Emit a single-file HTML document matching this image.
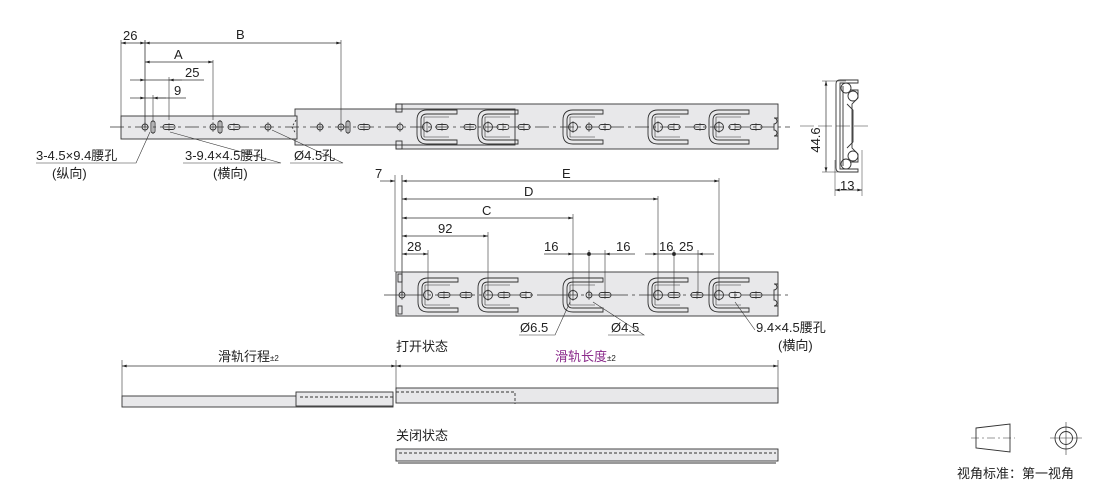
<!DOCTYPE html>
<html><head><meta charset="utf-8"><style>
html,body{margin:0;padding:0;background:#fff;width:1110px;height:485px;overflow:hidden}
svg text{font-family:"Liberation Sans","Noto Sans CJK SC",sans-serif;font-size:13px;fill:#222}
</style></head><body>
<svg width="1110" height="485" viewBox="0 0 1110 485" xmlns="http://www.w3.org/2000/svg">
<defs>
<marker id="a" viewBox="0 0 10 6" refX="10" refY="3" markerWidth="8" markerHeight="4" orient="auto-start-reverse"><path d="M0,0L10,3L0,6z" fill="#222"/></marker>
<g id="vs"><rect x="-2" y="-6" width="4" height="12" rx="2" fill="none" stroke="#333" stroke-width="0.9"/><line x1="0" y1="-7" x2="0" y2="7" stroke="#333" stroke-width="0.6"/></g>
<g id="hs"><rect x="-6" y="-2.5" width="12" height="5" rx="2.5" fill="none" stroke="#333" stroke-width="0.9"/><line x1="0" y1="-4" x2="0" y2="4" stroke="#333" stroke-width="0.6"/></g>
<g id="ci"><circle r="3" fill="none" stroke="#333" stroke-width="0.9"/><line x1="0" y1="-5" x2="0" y2="5" stroke="#333" stroke-width="0.6"/></g>
<g id="u"><path d="M30,-17 H0 Q-10,-17 -10,-7 V7 Q-10,17 0,17 H30 V13 H0 Q-6,13 -6,7 V-7 Q-6,-13 0,-13 H30 Z" fill="none" stroke="#333" stroke-width="0.9"/><path d="M-3,-10 V10 M-3,-10 H22 M-3,10 H22" fill="none" stroke="#333" stroke-width="0.6"/><circle r="4.5" fill="none" stroke="#333" stroke-width="0.9"/><line x1="0" y1="-6" x2="0" y2="6" stroke="#333" stroke-width="0.6"/></g>
</defs>
<g stroke="#333" stroke-width="0.9" fill="none">
<!-- TOP VIEW -->
<rect x="396" y="104" width="382" height="45" fill="#e8e8ea"/>
<rect x="295" y="109" width="220" height="36" fill="#e8e8ea"/>
<rect x="121" y="116" width="176" height="23" fill="#e8e8ea"/>
<line x1="110" y1="127" x2="790" y2="127" stroke-dasharray="14,4,3,4" stroke-width="0.7"/>
<path d="M296,120 l-4,7 l4,7" stroke-dasharray="2,2"/>
<rect x="396" y="104" width="6" height="8"/><rect x="396" y="141" width="6" height="8"/>
<path d="M778,118 h-4 a3,3 0 0 1 0,6 v6 a3,3 0 0 1 0,6 h4"/>
<!-- dims top -->
<line x1="121" y1="40" x2="121" y2="116" stroke-width="0.6"/>
<line x1="145" y1="40" x2="145" y2="127" stroke-width="0.8"/>
<line x1="153" y1="95" x2="153" y2="120" stroke-width="0.6"/>
<line x1="169" y1="77" x2="169" y2="120" stroke-width="0.6"/>
<line x1="213" y1="60" x2="213" y2="120" stroke-width="0.6"/>
<line x1="341" y1="40" x2="341" y2="122" stroke-width="0.6"/>
<line x1="121" y1="43" x2="145" y2="43" marker-start="url(#a)" marker-end="url(#a)" stroke-width="0.7"/>
<line x1="145" y1="43" x2="341" y2="43" marker-start="url(#a)" marker-end="url(#a)" stroke-width="0.7"/>
<line x1="145" y1="62" x2="213" y2="62" marker-start="url(#a)" marker-end="url(#a)" stroke-width="0.7"/>
<line x1="130" y1="80" x2="145" y2="80" marker-end="url(#a)" stroke-width="0.7"/><line x1="145" y1="80" x2="204" y2="80" stroke-width="0.7"/><line x1="182" y1="80" x2="169" y2="80" marker-end="url(#a)" stroke-width="0.7"/>
<line x1="130" y1="98" x2="145" y2="98" marker-end="url(#a)" stroke-width="0.7"/><line x1="145" y1="98" x2="186" y2="98" stroke-width="0.7"/><line x1="166" y1="98" x2="153" y2="98" marker-end="url(#a)" stroke-width="0.7"/>
<!-- leaders -->
<path d="M36,163 H136 L150,132" stroke-width="0.6"/>
<path d="M183,163 H281 L170,132" stroke-width="0.6"/>
<path d="M290,163 H343 L272,130" stroke-width="0.6"/>
<!-- second view -->
<rect x="396" y="272" width="382" height="44" fill="#e8e8ea"/>
<line x1="384" y1="295" x2="790" y2="295" stroke-dasharray="40,4,3,4" stroke-width="0.7"/>
<rect x="398" y="274" width="4" height="8"/><rect x="398" y="306" width="4" height="8"/>
<path d="M778,284 h-4 a3,3 0 0 1 0,6 v10 a3,3 0 0 1 0,6 h4"/>
<line x1="395" y1="175" x2="395" y2="272" stroke-width="0.6"/>
<line x1="402" y1="175" x2="402" y2="295" stroke-width="0.8"/>
<g stroke-width="0.6"><line x1="428" y1="250" x2="428" y2="295"/><line x1="488" y1="232" x2="488" y2="295"/><line x1="573" y1="214" x2="573" y2="295"/><line x1="589" y1="250" x2="589" y2="295"/><line x1="605" y1="250" x2="605" y2="295"/><line x1="658" y1="196" x2="658" y2="295"/><line x1="674" y1="250" x2="674" y2="295"/><line x1="698" y1="250" x2="698" y2="295"/><line x1="719" y1="178" x2="719" y2="295"/></g>
<g stroke-width="0.7">
<line x1="380" y1="181" x2="395" y2="181" marker-end="url(#a)"/>
<line x1="402" y1="181" x2="719" y2="181" marker-start="url(#a)" marker-end="url(#a)"/>
<line x1="402" y1="199" x2="658" y2="199" marker-start="url(#a)" marker-end="url(#a)"/>
<line x1="402" y1="218" x2="573" y2="218" marker-start="url(#a)" marker-end="url(#a)"/>
<line x1="402" y1="236" x2="488" y2="236" marker-start="url(#a)" marker-end="url(#a)"/>
<line x1="402" y1="254" x2="428" y2="254" marker-start="url(#a)" marker-end="url(#a)"/>
<line x1="544" y1="254" x2="573" y2="254" marker-end="url(#a)"/><line x1="573" y1="254" x2="605" y2="254"/><line x1="635" y1="254" x2="605" y2="254" marker-end="url(#a)"/>
<line x1="645" y1="254" x2="658" y2="254" marker-end="url(#a)"/><line x1="658" y1="254" x2="698" y2="254"/><line x1="714" y1="254" x2="698" y2="254" marker-end="url(#a)"/>
</g>
<circle cx="589" cy="254" r="1.5" fill="#222"/><circle cx="674" cy="254" r="1.5" fill="#222"/>
<path d="M519,335 H555 L570,302" stroke-width="0.6"/>
<path d="M608,335 H644 L593,302" stroke-width="0.6"/>
<path d="M735,302 L755,330" stroke-width="0.6"/>
<!-- side profile -->
<line x1="800" y1="126" x2="870" y2="126" stroke-dasharray="14,4" stroke-width="0.6"/>
<line x1="826" y1="81" x2="826" y2="172" marker-start="url(#a)" marker-end="url(#a)" stroke-width="0.7"/>
<line x1="822" y1="81" x2="846" y2="81" stroke-width="0.5"/><line x1="822" y1="172" x2="844" y2="172" stroke-width="0.5"/>
<line x1="835" y1="160" x2="835" y2="196" stroke-width="0.5"/><line x1="862" y1="150" x2="862" y2="196" stroke-width="0.5"/>
<line x1="835" y1="190" x2="862" y2="190" marker-start="url(#a)" marker-end="url(#a)" stroke-width="0.7"/>
<path d="M858,80 H840 Q836,80 836,84 V168 Q836,172 840,172 H858 V169 H840 V83 H858 Z"/>
<path d="M843,86 V166"/>
<path d="M850,90 H858 V98 L852,104 V148 L858,154 V162 H850"/>
<path d="M847,104 L853,110 V142 L847,148"/>
<circle cx="846" cy="88" r="5"/><circle cx="853" cy="96" r="5"/><circle cx="853" cy="156" r="5"/><circle cx="846" cy="164" r="5"/>
<!-- bottom views -->
<g stroke-width="0.6"><line x1="122" y1="360" x2="122" y2="396"/><line x1="396" y1="360" x2="396" y2="388"/><line x1="778" y1="360" x2="778" y2="388"/></g>
<line x1="122" y1="366" x2="396" y2="366" marker-start="url(#a)" marker-end="url(#a)" stroke-width="0.7"/>
<line x1="396" y1="366" x2="778" y2="366" marker-start="url(#a)" marker-end="url(#a)" stroke-width="0.7"/>
<rect x="122" y="396" width="271" height="11" fill="#e8e8ea"/>
<rect x="296" y="392" width="97" height="14" fill="#e8e8ea"/>
<line x1="300" y1="397" x2="393" y2="397" stroke-dasharray="3,2"/>
<rect x="396" y="388" width="382" height="15" fill="#e8e8ea"/>
<path d="M396,392 H515 V404" stroke-dasharray="3,2"/>
<rect x="396" y="449" width="382" height="12" fill="#e8e8ea"/>
<line x1="399" y1="453" x2="776" y2="453" stroke-dasharray="3,2"/>
<line x1="398" y1="463" x2="776" y2="463"/>
<!-- view symbol -->
<path d="M976,428 L1010,424 V452 L976,448 Z"/>
<line x1="971" y1="438" x2="1015" y2="438" stroke-dasharray="8,3,2,3" stroke-width="0.6"/>
<circle cx="1066" cy="438" r="11"/><circle cx="1066" cy="438" r="6.5"/>
<line x1="1050" y1="438" x2="1082" y2="438" stroke-width="0.6"/><line x1="1066" y1="422" x2="1066" y2="455" stroke-width="0.6"/>
</g>
<!-- holes top -->
<use href="#ci" x="145" y="127"/><use href="#vs" x="153" y="127"/><use href="#hs" x="169" y="127"/>
<use href="#ci" x="213" y="127"/><use href="#vs" x="220" y="127"/><use href="#hs" x="234" y="127"/>
<use href="#ci" x="268" y="127"/>
<use href="#ci" x="320" y="127"/><use href="#ci" x="341" y="127"/><use href="#vs" x="348" y="127"/><use href="#hs" x="364" y="127"/>
<use href="#ci" x="400" y="127"/><use href="#hs" x="470" y="127"/><use href="#hs" x="524" y="127"/><use href="#hs" x="605" y="127"/><use href="#hs" x="700" y="127"/><use href="#hs" x="756" y="127"/>
<use href="#u" x="427" y="127"/><use href="#u" x="488" y="127"/><use href="#u" x="573" y="127"/><use href="#u" x="658" y="127"/><use href="#u" x="719" y="127"/>
<use href="#hs" x="442" y="127"/><use href="#hs" x="503" y="127"/><use href="#ci" x="589" y="127"/><use href="#hs" x="674" y="127"/><use href="#hs" x="735" y="127"/>
<!-- holes second -->
<use href="#ci" x="402" y="295"/>
<use href="#u" x="428" y="295"/><use href="#u" x="488" y="295"/><use href="#u" x="573" y="295"/><use href="#u" x="658" y="295"/><use href="#u" x="719" y="295"/>
<use href="#hs" x="444" y="295"/><use href="#hs" x="504" y="295"/><use href="#ci" x="589" y="295"/><use href="#hs" x="674" y="295"/><use href="#hs" x="735" y="295"/>
<use href="#hs" x="466" y="295"/><use href="#hs" x="526" y="295"/><use href="#hs" x="605" y="295"/><use href="#hs" x="697" y="295"/><use href="#hs" x="756" y="295"/>
<!-- text -->
<text x="123" y="40">26</text><text x="236" y="39">B</text><text x="174" y="59">A</text><text x="185" y="77">25</text><text x="174" y="95">9</text>
<text x="36" y="160">3-4.5×9.4腰孔</text><text x="52" y="178">(纵向)</text>
<text x="185" y="160">3-9.4×4.5腰孔</text><text x="213" y="178">(横向)</text>
<text x="294" y="160">Ø4.5孔</text>
<text x="375" y="178">7</text><text x="562" y="178">E</text><text x="524" y="196">D</text><text x="482" y="215">C</text><text x="438" y="233">92</text><text x="407" y="251">28</text>
<text x="544" y="251">16</text><text x="616" y="251">16</text><text x="659" y="251">16</text><text x="679" y="251">25</text>
<text x="520" y="332">Ø6.5</text><text x="611" y="332">Ø4.5</text>
<text x="756" y="332">9.4×4.5腰孔</text><text x="778" y="350">(横向)</text>
<text x="816" y="140" transform="rotate(-90 816 140)" text-anchor="middle" dy="4">44.6</text>
<text x="840" y="190">13</text>
<text x="218" y="361">滑轨行程<tspan font-size="8">±2</tspan></text>
<text x="396" y="351">打开状态</text>
<text x="555" y="361" style="fill:#8b2a8b">滑轨长度<tspan font-size="8" style="fill:#222">±2</tspan></text>
<text x="396" y="440">关闭状态</text>
<text x="957" y="478">视角标准：第一视角</text>
</svg>
</body></html>
